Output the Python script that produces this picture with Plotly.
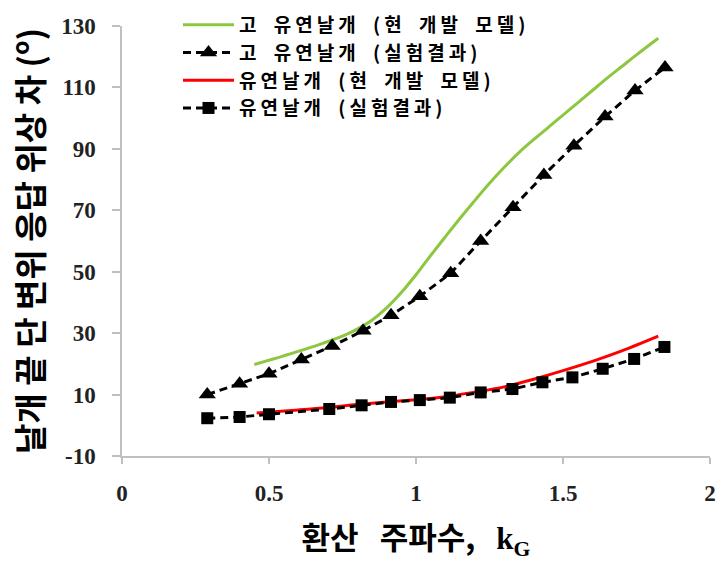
import plotly.graph_objects as go

# Experimental data: highly flexible wing (triangles)
hf_exp_x = [0.29, 0.40, 0.50, 0.61, 0.715, 0.82, 0.915, 1.013, 1.118, 1.22, 1.33, 1.435, 1.537, 1.643, 1.745, 1.847]
hf_exp_y = [10.0, 13.5, 16.8, 21.4, 25.8, 30.8, 35.8, 42.0, 49.5, 60.0, 71.0, 81.5, 91.0, 100.5, 109.0, 116.5]

# Model: highly flexible wing (green)
hf_mod_x = [0.45, 0.55, 0.65, 0.75, 0.80, 0.85, 0.90, 0.95, 1.0, 1.05, 1.1, 1.15, 1.2, 1.25, 1.3, 1.35,
            1.4, 1.45, 1.5, 1.55, 1.6, 1.65, 1.7, 1.75, 1.824]
hf_mod_y = [19.8, 22.6, 25.6, 29.0, 31.3, 34.2, 38.2, 43.2, 49.0, 55.3, 61.4, 67.4, 73.2, 78.8, 84.0, 88.8,
            93.0, 97.0, 101.0, 105.0, 109.0, 113.0, 116.8, 120.6, 126.0]

# Experimental data: flexible wing (squares)
f_exp_x = [0.29, 0.40, 0.50, 0.705, 0.815, 0.915, 1.013, 1.115, 1.22, 1.328, 1.43, 1.532, 1.635, 1.742, 1.845]
f_exp_y = [2.3, 2.7, 3.6, 5.3, 6.5, 7.6, 8.2, 9.0, 10.7, 11.8, 14.0, 15.6, 18.4, 21.6, 25.5]

# Model: flexible wing (red)
f_mod_x = [0.458, 0.6, 0.7, 0.8, 0.9, 1.0, 1.1, 1.2, 1.3, 1.4, 1.5, 1.6, 1.7, 1.824]
f_mod_y = [4.0, 5.0, 5.8, 6.8, 7.6, 8.3, 9.3, 10.8, 12.5, 15.0, 17.8, 20.8, 24.2, 29.0]

names = ["고 유연날개 (현 개발 모델)", "고 유연날개 (실험결과)", "유연날개 (현 개발 모델)", "유연날개 (실험결과)"]

x_ticks = [0, 0.5, 1, 1.5, 2]
x_tick_text = ["0", "0.5", "1", "1.5", "2"]
y_ticks = [-10, 10, 30, 50, 70, 90, 110, 130]
y_tick_text = ["-10", "10", "30", "50", "70", "90", "110", "130"]


def spaced(t, word, letter=0):
    return "<span style='word-spacing:%dpx;letter-spacing:%dpx'>%s</span>" % (word, letter, t)


fig = go.Figure()
fig.add_trace(go.Scatter(x=hf_mod_x, y=hf_mod_y, mode="lines", name=spaced(names[0], 5, 4),
                         line=dict(color="#8dc63f", width=3, shape="spline")))
fig.add_trace(go.Scatter(x=hf_exp_x, y=hf_exp_y, mode="lines+markers", name=spaced(names[1], 5, 4),
                         line=dict(color="black", width=3, dash="8px,5px"),
                         marker=dict(symbol="triangle-up", size=15, color="black")))
fig.add_trace(go.Scatter(x=f_mod_x, y=f_mod_y, mode="lines", name=spaced(names[2], 5, 4),
                         line=dict(color="#ff0000", width=3, shape="spline")))
fig.add_trace(go.Scatter(x=f_exp_x, y=f_exp_y, mode="lines+markers", name=spaced(names[3], 5, 4),
                         line=dict(color="black", width=3, dash="8px,5px"),
                         marker=dict(symbol="square", size=12, color="black")))

axis_common = dict(showgrid=False, zeroline=False, showline=True, linecolor="#c0c0c0",
                   linewidth=1.5, ticks="outside", tickcolor="#c0c0c0", tickwidth=1.5)

fig.update_layout(
    width=720, height=574,
    margin=dict(l=122, r=10, t=26, b=118, autoexpand=False),
    paper_bgcolor="white", plot_bgcolor="white",
    font=dict(family="Noto Sans CJK KR", color="black"),
    showlegend=True,
    legend=dict(x=(178 - 122) / 588, y=1 + (26 - 6) / 430,
                xanchor="left", yanchor="top",
                bgcolor="rgba(0,0,0,0)",
                font=dict(family="Noto Sans CJK KR", size=19, color="black", weight="bold"),
                itemwidth=51, tracegroupgap=0),
    xaxis=dict(range=[0, 2], tickvals=x_ticks, ticktext=x_tick_text, ticklen=6,
               ticklabelstandoff=10, automargin=False,
               tickfont=dict(family="Liberation Serif", size=23, color="#222", weight="bold"),
               title=dict(text=spaced("환산 주파수, <span style='font-family:Liberation Serif'>k<sub>G</sub></span>", 14),
                          font=dict(family="Noto Sans CJK KR", size=31, color="black", weight="bold"),
                          standoff=22),
               **axis_common),
    yaxis=dict(range=[-10, 130], tickvals=y_ticks, ticktext=y_tick_text, ticklen=8,
               ticklabelstandoff=12, automargin=True,
               tickfont=dict(family="Liberation Serif", size=23, color="#222", weight="bold"),
               title=dict(text="날개 끝 단 변위 응답 위상 차 (<sup>o</sup>)",
                          font=dict(family="Noto Sans CJK KR", size=33, color="black", weight="bold"),
                          standoff=8),
               **axis_common),
)

fig.write_html("out.html", config={"displayModeBar": False},
               post_script="document.body.style.margin='0px';")
